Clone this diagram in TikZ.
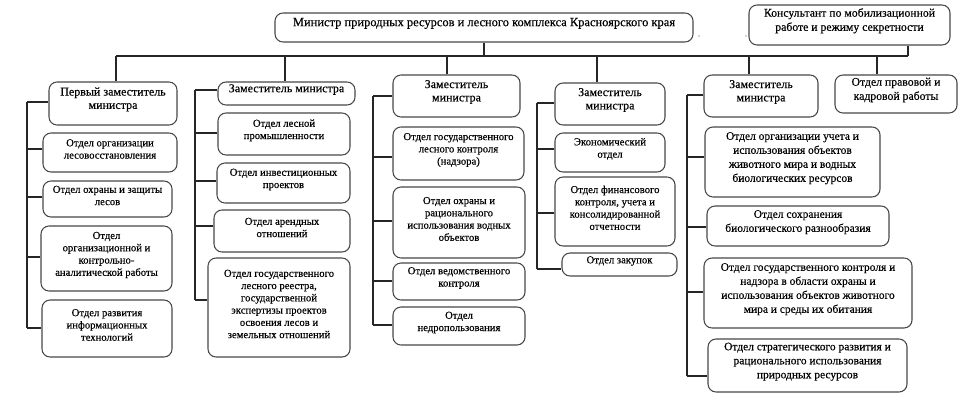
\documentclass[tikz,border=0pt]{standalone}
\usepackage{fontspec}
\setmainfont{Liberation Serif}
\newfontfamily\tms{Liberation Serif}[FakeBold=0.35]
\usetikzlibrary{fit}
\tikzset{
  box/.style={draw=black!72, line width=0.8pt, rounded corners=6pt, inner sep=0pt,
    align=center, font=\tms\fontsize{8}{9.2}\selectfont},
  dep/.style={font=\tms\fontsize{9}{10}\selectfont},
  wide/.style={font=\tms\fontsize{8.6}{10.5}\selectfont},
  top/.style={font=\tms\fontsize{9.35}{10.6}\selectfont},
  cons/.style={font=\tms\fontsize{8.8}{10.6}\selectfont},
  conn/.style={draw=black!85, line width=0.8pt},
  dot/.style={text=black!45, inner sep=0pt, font=\tms\fontsize{7}{7}\selectfont}
}
\newcommand\bx[7][]{\node[box,#1,fit={(#3,#4) (#5,#6)}] (#2) {#7};}
\newcommand\br[3]{\draw[conn] (#1 |- 0,#3) -- (#2.west |- 0,#3);}
\begin{document}
\begin{tikzpicture}[x=0.75pt,y=-0.75pt]
\useasboundingbox (0,0) rectangle (963,414);
% top
\bx[top]{m}{275}{13}{693}{42}{Министр природных ресурсов и лесного комплекса Красноярского края}
\bx[cons]{c}{749}{5}{950}{45}{Консультант по мобилизационной\\работе и режиму секретности}
\node[dot] (p1) at (699,36) {.};
\node[dot] (p2) at (746,36) {.};
% column 1
\bx[dep]{d1}{49}{82}{177}{125}{Первый заместитель\\министра}
\bx{b11}{43}{133}{177}{172}{Отдел организации\\лесовосстановления}
\bx{b12}{43}{181}{172}{217}{Отдел охраны и защиты\\лесов}
\bx{b13}{41}{226}{172}{291}{Отдел\\организационной и\\контрольно-\\аналитической работы}
\bx{b14}{42}{300}{172}{357}{Отдел развития\\информационных\\технологий}
% column 2
\bx[dep]{d2}{218}{82}{355}{105}{Заместитель министра}
\bx{b21}{218}{113}{350}{155}{Отдел лесной\\промышленности}
\bx{b22}{217}{163}{350}{203}{Отдел инвестиционных\\проектов}
\bx{b23}{214}{210}{350}{252}{Отдел арендных\\отношений}
\bx{b24}{208}{258}{350}{357}{Отдел государственного\\лесного реестра,\\государственной\\экспертизы проектов\\освоения лесов и\\земельных отношений}
% column 3
\bx[dep]{d3}{393}{75}{520}{117}{Заместитель\\министра}
\bx{b31}{393}{127}{524}{180}{Отдел государственного\\лесного контроля\\(надзора)}
\bx{b32}{393}{187}{525}{258}{Отдел охраны и\\рационального\\использования водных\\объектов}
\bx{b33}{393}{263}{525}{300}{Отдел ведомственного\\контроля}
\bx{b34}{393}{307}{525}{345}{Отдел\\недропользования}
% column 4
\bx[dep]{d4}{555}{83}{665}{125}{Заместитель\\министра}
\bx{b41}{555}{133}{665}{172}{Экономический\\отдел}
\bx{b42}{555}{177}{675}{246}{Отдел финансового\\контроля, учета и\\консолидированной\\отчетности}
\bx{b43}{562}{253}{677}{276}{Отдел закупок}
% column 5
\bx[dep]{d5}{704}{75}{818}{117}{Заместитель\\министра}
\bx[cons]{lg}{835}{75}{957}{113}{Отдел правовой и\\кадровой работы}
\bx[wide]{b51}{705}{127}{880}{197}{Отдел организации учета и\\использования объектов\\животного мира и водных\\биологических ресурсов}
\bx[wide]{b52}{707}{206}{889}{246}{Отдел сохранения\\биологического разнообразия}
\bx[wide]{b53}{704}{258}{912}{328}{Отдел государственного контроля и\\надзора в области охраны и\\использования объектов животного\\мира и среды их обитания}
\bx[wide]{b54}{708}{339}{907}{392}{Отдел стратегического развития и\\рационального использования\\природных ресурсов}
% bus
\coordinate (bl) at (116,56);
\coordinate (br) at (908,56);
\draw[conn] (bl) -- (br);
\draw[conn] (m.south) -- (m.south |- bl);
\draw[conn] (c.south -| br) -- (br);
\draw[conn] (116,56) -- (d1.north -| 116,56);
\draw[conn] (285,56) -- (d2.north -| 285,56);
\draw[conn] (447,56) -- (d3.north -| 447,56);
\draw[conn] (597,56) -- (d4.north -| 597,56);
\draw[conn] (749,56) -- (d5.north -| 749,56);
\draw[conn] (877,56) -- (lg.north -| 877,56);
% spines
\coordinate (s1) at (27,102);
\draw[conn] (s1) -- (s1 |- 0,328);
\br{s1}{d1}{102}\br{s1}{b11}{149}\br{s1}{b12}{197}\br{s1}{b13}{257}\br{s1}{b14}{328}
\coordinate (s2) at (195,90);
\draw[conn] (s2) -- (s2 |- 0,300);
\br{s2}{d2}{90}\br{s2}{b21}{133}\br{s2}{b22}{181}\br{s2}{b23}{226}\br{s2}{b24}{300}
\coordinate (s3) at (373,96);
\draw[conn] (s3) -- (s3 |- 0,325);
\br{s3}{d3}{96}\br{s3}{b31}{157}\br{s3}{b32}{221}\br{s3}{b33}{281}\br{s3}{b34}{325}
\coordinate (s4) at (537,103);
\draw[conn] (s4) -- (s4 |- 0,269);
\br{s4}{d4}{103}\br{s4}{b41}{149}\br{s4}{b42}{213}\br{s4}{b43}{269}
\coordinate (s5) at (687,95);
\draw[conn] (s5) -- (s5 |- 0,376);
\br{s5}{d5}{95}\br{s5}{b51}{157}\br{s5}{b52}{227}\br{s5}{b53}{292}\br{s5}{b54}{376}
\end{tikzpicture}
\end{document}
